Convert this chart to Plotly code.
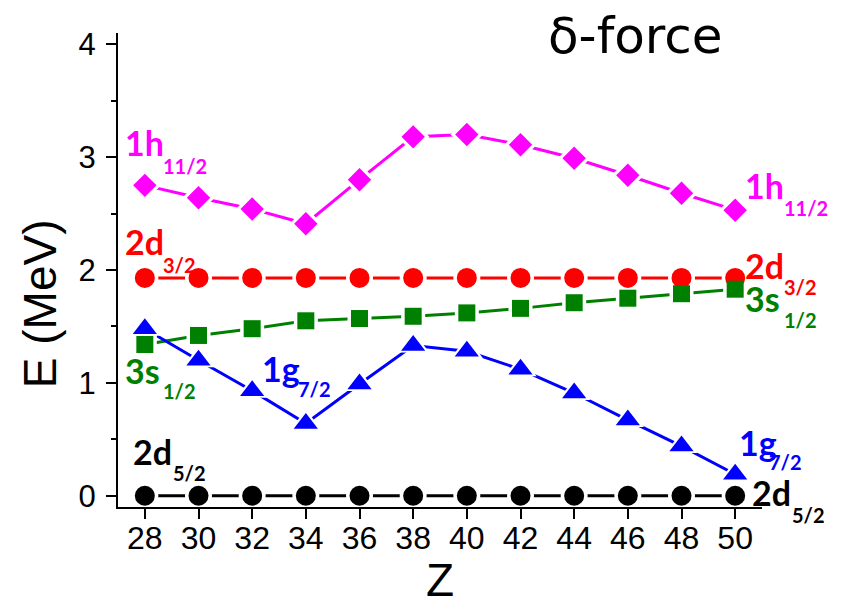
import plotly.graph_objects as go

# Proton number
Z = [28, 30, 32, 34, 36, 38, 40, 42, 44, 46, 48, 50]

# Single-particle energies (MeV) relative to 2d5/2, delta-force interaction
e_2d52 = [0.00, 0.00, 0.00, 0.00, 0.00, 0.00, 0.00, 0.00, 0.00, 0.00, 0.00, 0.00]
e_1g72 = [1.48, 1.20, 0.93, 0.64, 0.99, 1.33, 1.28, 1.12, 0.91, 0.67, 0.44, 0.19]
e_3s12 = [1.34, 1.42, 1.48, 1.55, 1.57, 1.59, 1.62, 1.66, 1.71, 1.75, 1.79, 1.83]
e_2d32 = [1.93, 1.93, 1.93, 1.93, 1.93, 1.93, 1.93, 1.93, 1.93, 1.93, 1.93, 1.93]
e_1h112 = [2.75, 2.64, 2.54, 2.41, 2.80, 3.18, 3.20, 3.11, 2.99, 2.84, 2.68, 2.53]

x_ticks = [28, 30, 32, 34, 36, 38, 40, 42, 44, 46, 48, 50]
y_ticks = [0, 1, 2, 3, 4]

X_RANGE = [27, 51]
Y_RANGE = [-0.1, 4.1]

series = [
    (e_2d52, "#000000", "circle", 20),
    (e_2d32, "#FF0000", "circle", 20),
    (e_3s12, "#008000", "square", 17),
    (e_1g72, "#0000FF", "triangle-up", 21),
    (e_1h112, "#FF00FF", "diamond", 18),
]

fig = go.Figure()

# connecting lines
for ys, col, sym, sz in series:
    fig.add_trace(go.Scatter(x=Z, y=ys, mode="lines",
                             line=dict(color=col, width=3),
                             showlegend=False, hoverinfo="skip"))
# white halos open a small gap between the lines and the symbols
for ys, col, sym, sz in series:
    fig.add_trace(go.Scatter(x=Z, y=ys, mode="markers",
                             marker=dict(symbol=sym, size=sz + 7, color="white"),
                             showlegend=False, hoverinfo="skip"))
# symbols
for ys, col, sym, sz in series:
    fig.add_trace(go.Scatter(x=Z, y=ys, mode="markers",
                             marker=dict(symbol=sym, size=sz, color=col),
                             showlegend=False))

LABEL_FONT = "Lato, 'Liberation Sans', sans-serif"
annotations = []


def to_paper(x, y):
    """Convert data coordinates to paper fractions (labels may sit outside the axes)."""
    return ((x - X_RANGE[0]) / (X_RANGE[1] - X_RANGE[0]),
            (y - Y_RANGE[0]) / (Y_RANGE[1] - Y_RANGE[0]))


def level_label(main, sub, color, x, y, xs, ys):
    px, py = to_paper(x, y)
    annotations.append(dict(x=px, y=py, xref="paper", yref="paper", text="<b>%s</b>" % main,
                            showarrow=False, xanchor="left", yanchor="middle",
                            font=dict(family=LABEL_FONT, size=34, color=color)))
    px, py = to_paper(xs, ys)
    annotations.append(dict(x=px, y=py, xref="paper", yref="paper", text="<b>%s</b>" % sub,
                            showarrow=False, xanchor="left", yanchor="middle",
                            font=dict(family=LABEL_FONT, size=20, color=color)))


level_label("1h", "11/2", "#FF00FF", 27.2, 3.13, 28.62, 2.92)
level_label("2d", "3/2", "#FF0000", 27.2, 2.25, 28.62, 2.04)
level_label("3s", "1/2", "#008000", 27.2, 1.11, 28.62, 0.93)
level_label("1g", "7/2", "#0000FF", 32.3, 1.13, 33.62, 0.95)
level_label("2d", "5/2", "#000000", 27.47, 0.39, 28.99, 0.20)
level_label("1h", "11/2", "#FF00FF", 50.31, 2.75, 51.73, 2.55)
level_label("2d", "3/2", "#FF0000", 50.31, 2.04, 51.73, 1.85)
level_label("3s", "1/2", "#008000", 50.31, 1.75, 51.73, 1.56)
level_label("1g", "7/2", "#0000FF", 50.05, 0.47, 51.17, 0.30)
level_label("2d", "5/2", "#000000", 50.57, 0.03, 52.06, -0.17)

# panel title
annotations.append(dict(x=0.803, y=0.994, xref="paper", yref="paper", text="δ-force",
                        showarrow=False, xanchor="center", yanchor="middle",
                        font=dict(family="DejaVu Sans", size=50, color="black")))
# energy axis title
annotations.append(dict(x=-0.121, y=0.428, xref="paper", yref="paper", text="E (MeV)",
                        showarrow=False, textangle=-90, xanchor="center", yanchor="middle",
                        font=dict(family="Liberation Sans, Arial", size=46, color="black")))

fig.update_layout(
    width=844, height=606,
    margin=dict(l=118, r=82, t=33, b=99, autoexpand=False),
    paper_bgcolor="white", plot_bgcolor="white",
    annotations=annotations,
    font=dict(family="Liberation Sans, Arial", color="black"),
)
fig.update_xaxes(
    range=X_RANGE, tickvals=x_ticks, ticks="outside", ticklen=10, tickwidth=2,
    tickcolor="black", showline=True, linecolor="black", linewidth=2,
    showgrid=False, zeroline=False, tickfont=dict(size=32), automargin=False,
    ticklabelstandoff=-8,
    title=dict(text="Z", font=dict(size=46), standoff=12),
)
fig.update_yaxes(
    range=Y_RANGE, tickvals=y_ticks, ticks="outside", ticklen=10, tickwidth=2,
    tickcolor="black", showline=True, linecolor="black", linewidth=2,
    showgrid=False, zeroline=False, tickfont=dict(size=31), ticklabelstandoff=4,
    automargin=False,
    minor=dict(dtick=0.5, tick0=0, ticks="outside", ticklen=5, tickwidth=2,
               tickcolor="black", showgrid=False),
)

fig.write_html("out.html")
